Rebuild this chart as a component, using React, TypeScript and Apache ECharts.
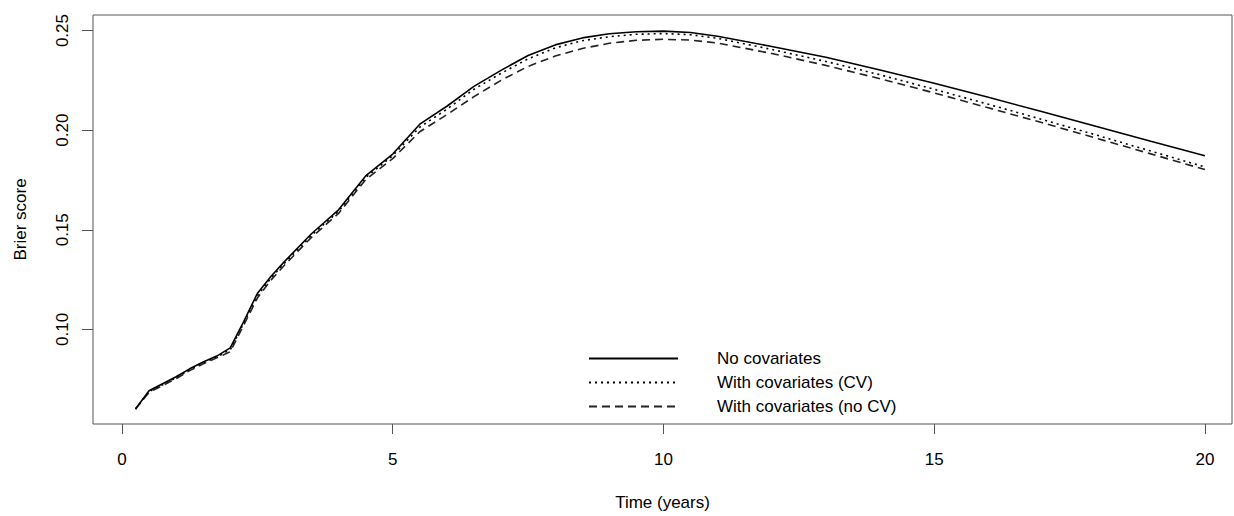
import React, { useEffect, useRef } from "react";
import * as echarts from "echarts";

const times = [0.25, 0.5, 0.75, 1, 1.25, 1.5, 1.75, 2, 2.25, 2.5, 2.75, 3, 3.5, 4, 4.5, 5, 5.5, 6, 6.5, 7, 7.5, 8, 8.5, 9, 9.5, 10, 10.5, 11, 12, 13, 14, 15, 16, 17, 18, 19, 20];

const noCov = [0.060, 0.0692, 0.0727, 0.0762, 0.0802, 0.0836, 0.0866, 0.0907, 0.1040, 0.1180, 0.1265, 0.1340, 0.1480, 0.1600, 0.1770, 0.1880, 0.2030, 0.2120, 0.2220, 0.2300, 0.2375, 0.2428, 0.2463, 0.2484, 0.2494, 0.2497, 0.2490, 0.2471, 0.2420, 0.2366, 0.2302, 0.2235, 0.2165, 0.2092, 0.2018, 0.1944, 0.1871];

const withCovCV = [0.060, 0.0688, 0.0722, 0.0757, 0.0797, 0.0831, 0.0861, 0.0898, 0.1032, 0.1168, 0.1257, 0.1332, 0.1472, 0.1592, 0.1762, 0.1872, 0.2015, 0.2105, 0.2205, 0.2285, 0.2358, 0.2413, 0.2449, 0.2469, 0.2481, 0.2485, 0.2479, 0.2461, 0.2405, 0.2345, 0.2278, 0.2205, 0.2130, 0.2053, 0.1975, 0.1895, 0.1815];

const withCovNoCV = [0.060, 0.0684, 0.0718, 0.0753, 0.0793, 0.0827, 0.0857, 0.0888, 0.1022, 0.1157, 0.1247, 0.1322, 0.1462, 0.1582, 0.1752, 0.1857, 0.1992, 0.2078, 0.2168, 0.2250, 0.2320, 0.2372, 0.2410, 0.2436, 0.2451, 0.2456, 0.2452, 0.2437, 0.2385, 0.2325, 0.2258, 0.2187, 0.2112, 0.2037, 0.1959, 0.1881, 0.1802];

const seriesNames = ["No covariates", "With covariates (CV)", "With covariates (no CV)"];
const xTicks = [0, 5, 10, 15, 20];
const yTicks = [0.1, 0.15, 0.2, 0.25];

const FONT = "'Liberation Sans', Arial, Helvetica, sans-serif";
const FS = 17;

function pairs(vals: number[]) {
  return times.map((t, i) => [t, vals[i]]);
}

export default function App() {
  const ref = useRef<HTMLDivElement>(null);
  useEffect(() => {
    if (!ref.current) return;
    const chart = echarts.init(ref.current, undefined, { renderer: "svg" });
    const lineW = 1.6;
    chart.setOption({
      animation: false,
      backgroundColor: "#ffffff",
      textStyle: { fontFamily: FONT, color: "#000" },
      grid: {
        left: 93,
        top: 15,
        right: 2,
        bottom: 516 - 433,
        show: true,
        borderColor: "#555",
        borderWidth: 1,
        backgroundColor: "transparent",
      },
      legend: {
        orient: "vertical",
        left: 583,
        top: 345,
        itemWidth: 89,
        itemHeight: 16,
        itemGap: 7,
        data: seriesNames,
        itemStyle: { opacity: 0, borderWidth: 0 },
        textStyle: { fontFamily: FONT, fontSize: FS, color: "#000", padding: [0, 0, 0, 34] },
        selectedMode: false,
      },
      xAxis: {
        type: "value",
        min: -0.535,
        max: 20.5,
        name: "Time (years)",
        nameLocation: "middle",
        nameGap: 70,
        nameTextStyle: { fontFamily: FONT, fontSize: FS, color: "#000" },
        axisLine: { show: false, onZero: false },
        axisTick: { show: true, length: 10, lineStyle: { color: "#555" }, customValues: xTicks },
        axisLabel: { customValues: xTicks, margin: 27, fontSize: FS, fontFamily: FONT, color: "#000" },
        splitLine: { show: false },
      },
      yAxis: {
        type: "value",
        min: 0.0525,
        max: 0.2578,
        name: "Brier score",
        nameLocation: "middle",
        nameGap: 64,
        nameTextStyle: { fontFamily: FONT, fontSize: FS, color: "#000" },
        axisLine: { show: false, onZero: false },
        axisTick: { show: true, length: 11, lineStyle: { color: "#555" }, customValues: yTicks },
        axisLabel: {
          customValues: yTicks,
          rotate: 90,
          margin: 22,
          fontSize: FS,
          fontFamily: FONT,
          color: "#000",
          formatter: (v: number) => v.toFixed(2),
        },
        splitLine: { show: false },
      },
      series: [
        {
          name: seriesNames[0],
          type: "line",
          data: pairs(noCov),
          symbol: "none",
          showSymbol: false,
          lineStyle: { color: "#000", width: lineW, type: "solid" },
          itemStyle: { color: "#000" },
          z: 3,
        },
        {
          name: seriesNames[1],
          type: "line",
          data: pairs(withCovCV),
          symbol: "none",
          showSymbol: false,
          lineStyle: { color: "#000", width: lineW, type: [2, 4] },
          itemStyle: { color: "#000" },
          z: 2,
        },
        {
          name: seriesNames[2],
          type: "line",
          data: pairs(withCovNoCV),
          symbol: "none",
          showSymbol: false,
          lineStyle: { color: "#222", width: lineW, type: [8, 5] },
          itemStyle: { color: "#222" },
          z: 2,
        },
      ],
    });
    return () => chart.dispose();
  }, []);
  return <div ref={ref} style={{ width: 1234, height: 516, position: "absolute", left: 0, top: 0 }} />;
}
